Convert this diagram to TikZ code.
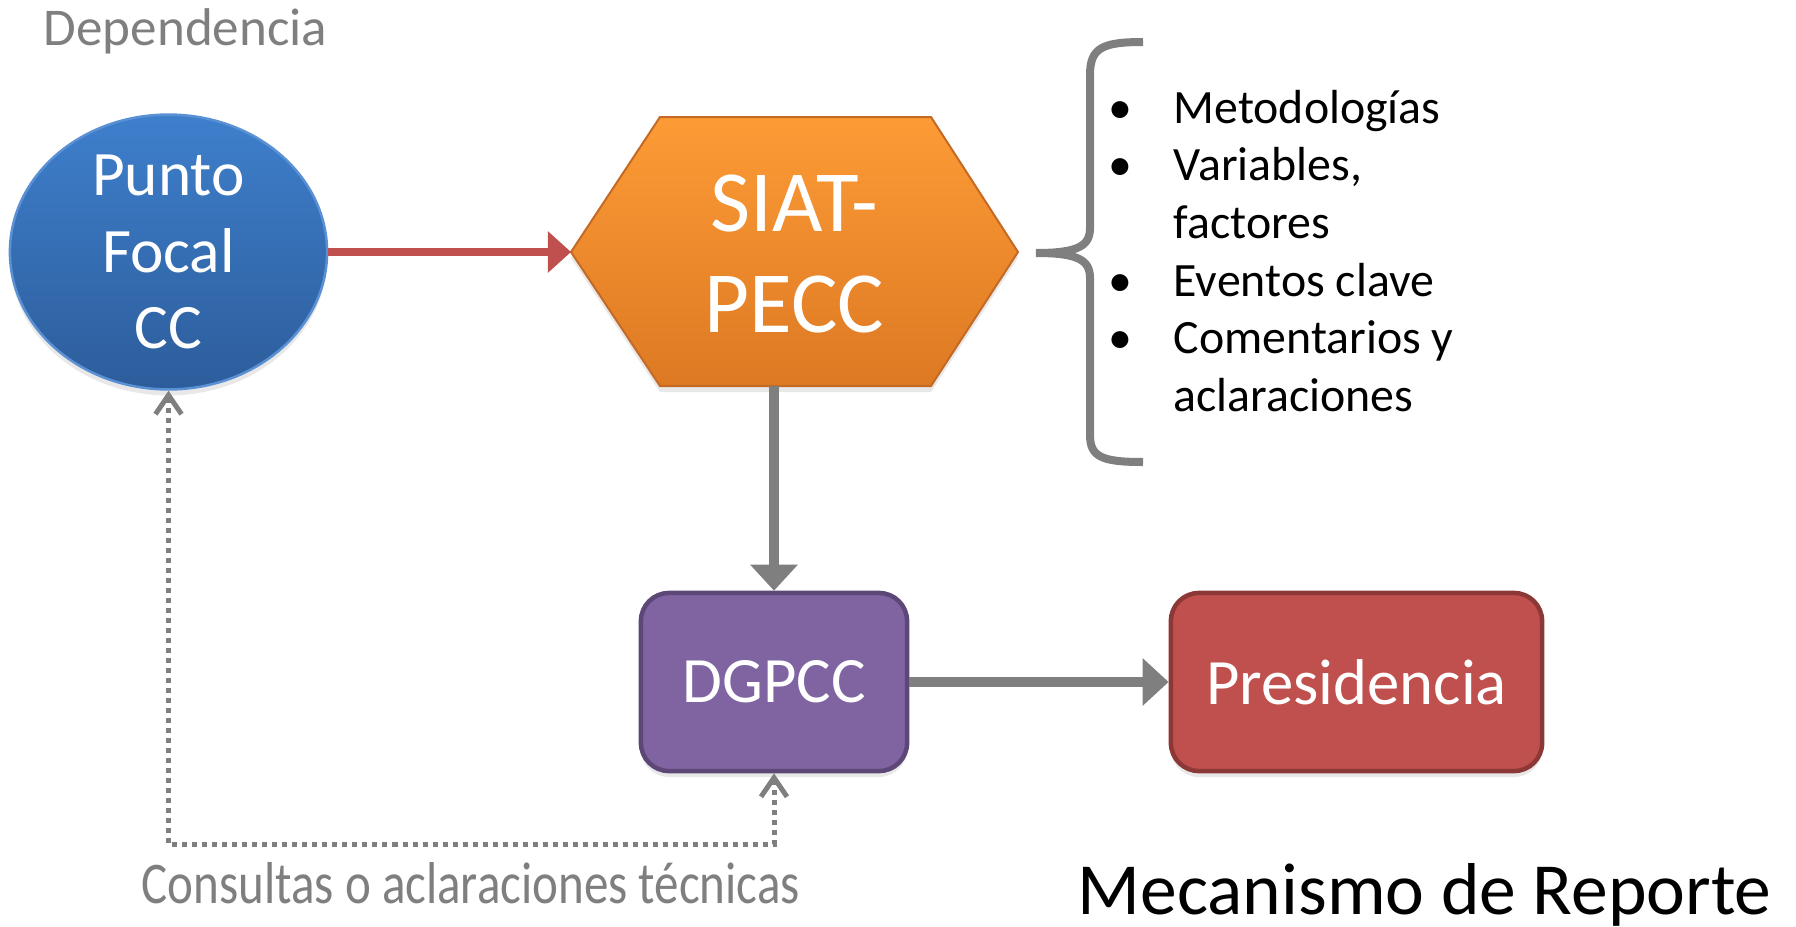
\documentclass[tikz,border=0pt]{standalone}
\usepackage{fontspec}
\setmainfont{Carlito}
\newfontfamily\angosta{Carlito}[FakeStretch=0.83]
\usetikzlibrary{shapes.geometric,arrows.meta,shadows}
\definecolor{azulA}{HTML}{3E7FCC}
\definecolor{azulB}{HTML}{2D5D9B}
\definecolor{azulBorde}{HTML}{5A90D4}
\definecolor{naranjaA}{HTML}{FD9B36}
\definecolor{naranjaB}{HTML}{DD7923}
\definecolor{naranjaBorde}{HTML}{C46A24}
\definecolor{morado}{HTML}{8064A2}
\definecolor{moradoBorde}{HTML}{5C4776}
\definecolor{rojo}{HTML}{C0504D}
\definecolor{rojoBorde}{HTML}{8C3836}
\definecolor{gris}{HTML}{7F7F7F}
\tikzset{
  sombra/.style={drop shadow={opacity=0.18, shadow xshift=0pt, shadow yshift=-0.6mm}},
  flecharoja/.style={draw=rojo, line width=0.8mm, -{Triangle[length=2.3mm,width=4mm]}},
  flechagris/.style={draw=gris, line width=1mm, -{Triangle[length=2.6mm,width=4.6mm]}},
  consulta/.style={draw=gris, line width=0.5mm, dash pattern=on 0.5mm off 0.5mm,
    {Straight Barb[length=1.9mm,width=2.6mm,line width=0.5mm]}-{Straight Barb[length=1.9mm,width=2.6mm,line width=0.5mm]}},
  llave/.style={draw=gris, line width=0.8mm},
  caja/.style={rectangle, rounded corners=2.8mm, minimum height=17.8mm, line width=0.45mm, sombra}
}
\begin{document}
\begin{tikzpicture}[x=0.01cm, y=-0.01cm]
      \useasboundingbox (0,0) rectangle (1796,927);

      \fill[top color=naranjaA, bottom color=naranjaB, draw=naranjaBorde, line width=0.2mm, sombra]
        (571,252) -- (660,117) -- (931,117) -- (1018,252) -- (931,386) -- (660,386) -- cycle;
      \coordinate (siatW) at (571,252);
      \coordinate (siatS) at (794.5,386);
      \coordinate (bajo)  at (0,844);

      \begin{scope}[every node/.style={text=white, align=center, inner sep=0pt}]
        \node[ellipse, minimum width=31.7mm, minimum height=25.9mm, top color=azulA, bottom color=azulB,
              draw=azulBorde, line width=0.25mm, sombra, font=\fontsize{18}{21.8}\selectfont]
              (pf) at (168.5,252) {Punto\\Focal\\CC};
        \node[font=\fontsize{24.8}{28.5}\selectfont] (siat) at (794.5,254) {SIAT-\\PECC};
        \node[caja, minimum width=26.6mm, fill=morado, draw=moradoBorde, font=\fontsize{18.4}{22}\selectfont]
              (dg) at (774,682) {DGPCC};
        \node[caja, minimum width=37.1mm, fill=rojo, draw=rojoBorde, font=\fontsize{18.4}{22}\selectfont]
              (pres) at (1356.5,682) {Presidencia};
      \end{scope}

      \begin{scope}[every node/.style={anchor=base west, inner sep=0pt}]
        \node[text=gris, font=\fontsize{15.1}{18}\selectfont] (dep) at (43,45) {Dependencia};
        \node[text=gris, font=\angosta\fontsize{16.8}{20}\selectfont] (cons) at (141,903)
              {Consultas o aclaraciones técnicas};
        \node[font=\fontsize{20.9}{25}\selectfont] (meca) at (1077,914) {Mecanismo de Reporte};
        \node[font=\fontsize{13.6}{16.4}\selectfont] (lista) at (1109,123)
              {\begin{tabular}[t]{@{}l@{\hspace{4.2mm}}l@{}}
                \makebox[2.2mm]{\textbullet} & Metodologías\\
                \makebox[2.2mm]{\textbullet} & Variables,\\
                 & factores\\
                \makebox[2.2mm]{\textbullet} & Eventos clave\\
                \makebox[2.2mm]{\textbullet} & Comentarios y\\
                 & aclaraciones
              \end{tabular}};
      \end{scope}

      \draw[llave] (1143,42) .. controls (1102,42) and (1090,48) .. (1090,75) -- (1090,228)
        .. controls (1090,246) and (1078,253) .. (1036,253)
        .. controls (1078,253) and (1090,260) .. (1090,278) -- (1090,435)
        .. controls (1090,457) and (1102,462) .. (1143,462);

      \path (pf) edge[flecharoja] (siatW);
      \path (dg.north |- siatS) edge[flechagris] (dg.north);
      \path (dg) edge[flechagris] (pres);
      \draw[consulta] (pf.south) -- (pf.south |- bajo) -| (dg.south);

    \end{tikzpicture}
\end{document}
